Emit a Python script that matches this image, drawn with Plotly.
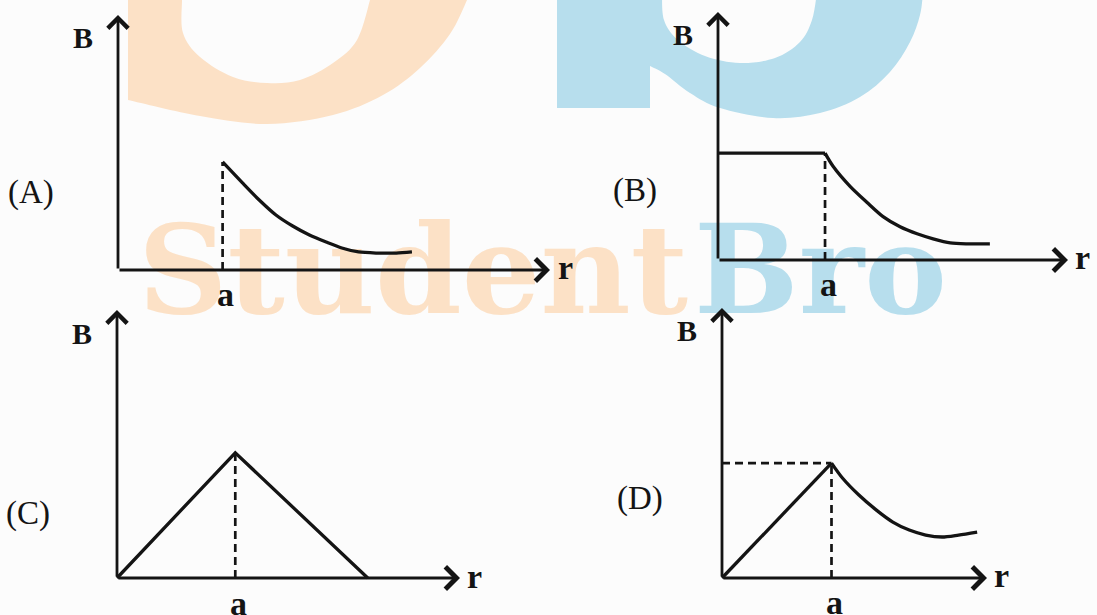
import plotly.graph_objects as go

W, H = 1097, 615

# ---------------- data (r in units of a, B in units of the value at r = a) ----------------
# (A) B = 0 inside, decays outside
A_r = [1.0, 1.19, 1.35, 1.51, 1.67, 1.83, 1.99, 2.14, 2.30, 2.47, 2.66, 2.81]
A_B = [1.0, 0.806, 0.648, 0.509, 0.407, 0.324, 0.259, 0.204, 0.167, 0.157, 0.157, 0.167]

# (B) constant inside, decays outside
B_in_r = [0.0, 1.0]
B_in_B = [1.0, 1.0]
B_out_r = [1.0, 1.075, 1.234, 1.393, 1.542, 1.701, 1.86, 2.01, 2.17, 2.33, 2.54]
B_out_B = [1.0, 0.877, 0.689, 0.538, 0.406, 0.311, 0.245, 0.198, 0.160, 0.151, 0.151]

# (C) linear rise then linear fall
C_r = [0.0, 1.0, 2.12]
C_B = [0.0, 1.0, 0.0]

# (D) linear rise inside, decays outside
D_in_r = [0.0, 1.0]
D_in_B = [0.0, 1.0]
D_out_r = [1.0, 1.10, 1.25, 1.41, 1.56, 1.71, 1.86, 2.01, 2.16, 2.33]
D_out_B = [1.0, 0.87, 0.722, 0.591, 0.487, 0.417, 0.374, 0.357, 0.374, 0.40]

TAGS = ["(A)", "(B)", "(C)", "(D)"]
AXIS_LABEL_Y = "B"
AXIS_LABEL_X = "r"
MARK_LABEL = "a"
WATERMARK = ["Student", "Bro"]

# axis extents (arrow tips) in data units
XTIP = [4.13, 3.27, 2.90, 2.42]
YTIP = [2.36, 2.32, 2.14, 2.35]

# pixel placement: origin and arrow tips (layout)
place = [
    dict(ox=118, oy=270, tx=550, ty=15),
    dict(ox=718, oy=260, tx=1068, ty=12),
    dict(ox=117, oy=578, tx=460, ty=310),
    dict(ox=722, oy=578, tx=987, ty=308),
]

INK = "#141414"
ORANGE = "#fce1c6"
BLUE = "#b7deed"
SERIF = "Liberation Serif"

fig = go.Figure()
layout = {}
PAD = 0.08

# watermark axis (first, so it is drawn beneath everything)
layout["xaxis"] = dict(domain=[0, 1], range=[0, W], visible=False, fixedrange=True, anchor="y")
layout["yaxis"] = dict(domain=[0, 1], range=[H, 0], visible=False, fixedrange=True, anchor="x")

for i in range(4):
    n = str(i + 2)
    q = place[i]
    sx = (q["tx"] - q["ox"]) / XTIP[i]
    sy = (q["oy"] - q["ty"]) / YTIP[i]
    x0 = q["ox"] - PAD * sx
    x1 = q["tx"] + PAD * sx
    y0 = q["oy"] + PAD * sy
    y1 = q["ty"] - PAD * sy
    layout["xaxis" + n] = dict(domain=[x0 / W, x1 / W], range=[-PAD, XTIP[i] + PAD],
                               visible=False, fixedrange=True, anchor="y" + n)
    layout["yaxis" + n] = dict(domain=[1 - y0 / H, 1 - y1 / H], range=[-PAD, YTIP[i] + PAD],
                               visible=False, fixedrange=True, anchor="x" + n)
fig.update_layout(**layout)

# watermark words
fig.add_trace(go.Scatter(x=[688], y=[282], mode="text", text=[WATERMARK[0]], textposition="middle left",
                         textfont=dict(family="DejaVu Serif", size=124, color=ORANGE, weight="bold"),
                         xaxis="x", yaxis="y", hoverinfo="skip", showlegend=False))
fig.add_trace(go.Scatter(x=[694], y=[282], mode="text", text=[WATERMARK[1]], textposition="middle right",
                         textfont=dict(family="DejaVu Serif", size=124, color=BLUE, weight="bold"),
                         xaxis="x", yaxis="y", hoverinfo="skip", showlegend=False))

DASH = "8px,5px"

def line(x, y, n, dash="solid", width=3.3, shape="linear"):
    fig.add_trace(go.Scatter(x=x, y=y, mode="lines", xaxis="x" + n, yaxis="y" + n,
                             line=dict(color=INK, width=width, dash=dash, shape=shape, smoothing=0.8),
                             hoverinfo="skip", showlegend=False))

# A
line(A_r, A_B, "2", shape="spline")
line([1, 1], [0, A_B[0]], "2", dash=DASH, width=2.7)
# B
line(B_in_r, B_in_B, "3")
line(B_out_r, B_out_B, "3", shape="spline")
line([1, 1], [0, B_out_B[0]], "3", dash=DASH, width=2.7)
# C
line(C_r, C_B, "4")
line([1, 1], [0, C_B[1]], "4", dash=DASH, width=2.7)
# D
line(D_in_r, D_in_B, "5")
line(D_out_r, D_out_B, "5", shape="spline")
line([1, 1], [0, D_in_B[1]], "5", dash=DASH, width=2.7)
line([0, 1], [D_in_B[1], D_in_B[1]], "5", dash=DASH, width=2.7)

ann = []
for i in range(4):
    n = str(i + 2)
    xr, yr = "x" + n, "y" + n
    ann.append(dict(x=XTIP[i], y=0, ax=0, ay=0, xref=xr, yref=yr, axref=xr, ayref=yr,
                    text="", showarrow=True, arrowhead=4, arrowsize=1.35, arrowwidth=3.2,
                    arrowcolor=INK))
    ann.append(dict(x=0, y=YTIP[i], ax=0, ay=0, xref=xr, yref=yr, axref=xr, ayref=yr,
                    text="", showarrow=True, arrowhead=4, arrowsize=1.4, arrowwidth=2.8,
                    arrowcolor=INK))
    ann.append(dict(x=0, y=YTIP[i], xref=xr, yref=yr, text="<b>" + AXIS_LABEL_Y + "</b>",
                    showarrow=False, xanchor="center", yanchor="middle",
                    xshift=-35, yshift=-23, font=dict(family=SERIF, size=30, color=INK)))
    ann.append(dict(x=1, y=0, xref=xr, yref=yr, text="<b>" + MARK_LABEL + "</b>", showarrow=False,
                    xanchor="center", yanchor="middle",
                    xshift=3, yshift=-25, font=dict(family=SERIF, size=34, color=INK)))
    ann.append(dict(x=XTIP[i], y=0, xref=xr, yref=yr, text="<b>" + AXIS_LABEL_X + "</b>",
                    showarrow=False, xanchor="center", yanchor="middle",
                    xshift=15, yshift=2, font=dict(family=SERIF, size=34, color=INK)))

tag_pos = [(31, 192), (635, 190), (28, 513), (640, 498)]
for t, (px, py) in zip(TAGS, tag_pos):
    ann.append(dict(x=px / W, y=1 - py / H, xref="paper", yref="paper", text=t, showarrow=False,
                    xanchor="center", yanchor="middle",
                    font=dict(family=SERIF, size=33, color=INK)))


# watermark logo shapes (decoration geometry, pixel space)
def P(x, y):
    return f"{x / W:.5f},{1 - y / H:.5f}"

def smooth_seg(pts):
    s = ""
    for i in range(len(pts) - 1):
        p0 = pts[i - 1] if i > 0 else pts[i]
        p1, p2 = pts[i], pts[i + 1]
        p3 = pts[i + 2] if i + 2 < len(pts) else p2
        c1 = (p1[0] + (p2[0] - p0[0]) / 6, p1[1] + (p2[1] - p0[1]) / 6)
        c2 = (p2[0] - (p3[0] - p1[0]) / 6, p2[1] - (p3[1] - p1[1]) / 6)
        s += "C" + P(*c1) + " " + P(*c2) + " " + P(*p2)
    return s

o_outer = [(128, 100), (200, 116), (267, 124), (333, 115), (383, 95), (420, 68),
           (450, 34), (467, 0), (469, -8)]
o_inner = [(182, -8), (182, 0), (183, 33), (200, 57), (233, 77), (267, 83), (300, 80),
           (333, 63), (357, 40), (370, 0), (371, -8)]
hole = o_inner[::-1]
orange_path = ("M" + P(128, -8) + "L" + P(128, 100) + smooth_seg(o_outer) + "Z"
               + "M" + P(*hole[0]) + smooth_seg(hole) + "Z")

b_outer = [(650, 66), (665, 74), (690, 93), (720, 108), (773, 118), (820, 113), (860, 97),
           (890, 72), (910, 42), (920, 15), (923, -8)]
b_inner = [(662, -8), (664, 20), (678, 40), (705, 56), (740, 63), (775, 58), (800, 42),
           (812, 20), (817, -8)]
bhole = b_inner[::-1]
blue_path = ("M" + P(557, -8) + "L" + P(557, 108) + "L" + P(650, 108) + "L" + P(650, 66)
             + smooth_seg(b_outer) + "Z"
             + "M" + P(*bhole[0]) + smooth_seg(bhole) + "Z")

shapes = [
    dict(type="path", xref="paper", yref="paper", layer="below", path=orange_path,
         fillcolor=ORANGE, line=dict(width=0)),
    dict(type="path", xref="paper", yref="paper", layer="below", path=blue_path,
         fillcolor=BLUE, line=dict(width=0)),
]

fig.update_layout(
    width=W, height=H, margin=dict(l=0, r=0, t=0, b=0),
    paper_bgcolor="#fcfcfc", plot_bgcolor="rgba(0,0,0,0)",
    annotations=ann, shapes=shapes, showlegend=False,
)
fig.write_html("out.html", config={"displayModeBar": False},
               post_script="document.body.style.margin='0px';document.body.style.overflow='hidden';")
